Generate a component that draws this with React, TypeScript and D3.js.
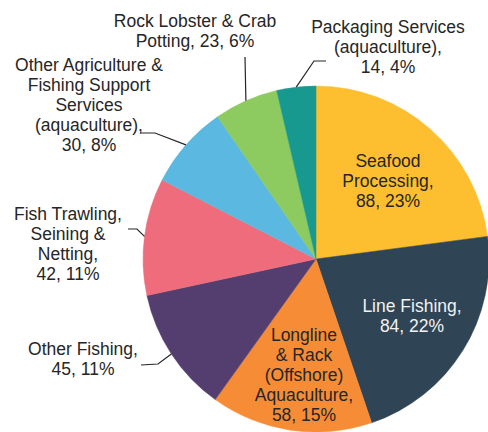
import React, { useRef, useEffect } from "react";
import * as d3 from "d3";

const categories = [
  "Seafood Processing",
  "Line Fishing",
  "Longline & Rack (Offshore) Aquaculture",
  "Other Fishing",
  "Fish Trawling, Seining & Netting",
  "Other Agriculture & Fishing Support Services (aquaculture)",
  "Rock Lobster & Crab Potting",
  "Packaging Services (aquaculture)",
];
const values = [88, 84, 58, 45, 42, 30, 23, 14];
const percentLabels = ["23%", "22%", "15%", "11%", "11%", "8%", "6%", "4%"];
// how each label is broken into lines (last line gets "value, percent")
const nameLines = [
  ["Seafood", "Processing,"],
  ["Line Fishing,"],
  ["Longline", "& Rack", "(Offshore)", "Aquaculture,"],
  ["Other Fishing,"],
  ["Fish Trawling,", "Seining &", "Netting,"],
  ["Other Agriculture &", "Fishing Support", "Services", "(aquaculture),"],
  ["Rock Lobster & Crab", "Potting,"],
  ["Packaging Services", "(aquaculture),"],
];
const colors = [
  "#fdbf2f",
  "#2f4454",
  "#f68d36",
  "#533e6f",
  "#ee6c7b",
  "#5bb8e0",
  "#8dca5f",
  "#17998f",
];

// label placement: centre x, first baseline y, optional leader start + elbow
type Layout = { x: number; y: number; leader?: [number, number][]; fill?: string; inline?: boolean };
const layout: Layout[] = [
  { x: 388, y: 167 },
  { x: 412, y: 312, fill: "#f2f2f2" },
  { x: 304, y: 341 },
  { x: 83, y: 355, leader: [[141, 365], [158, 364]] },
  { x: 68, y: 220, leader: [[128, 229], [137, 229]] },
  { x: 89, y: 71, leader: [[140, 133], [155, 133]] },
  { x: 195, y: 27, inline: true, leader: [[245, 57], [245, 57]] },
  { x: 388, y: 33, leader: [[326, 61], [314, 61]] },
];

const W = 488;
const H = 432;

export default function App() {
  const svgRef = useRef<SVGSVGElement>(null);

  useEffect(() => {
    if (!svgRef.current) return;
    const svg = d3.select(svgRef.current);
    svg.selectAll("*").remove();

    const cx = 316;
    const cy = 259;
    const r = 173;
    const lineH = 20;

    svg.append("rect").attr("width", W).attr("height", H).attr("fill", "#ffffff");

    const pie = d3
      .pie<number>()
      .sort(null)
      .value((d) => d)
      .startAngle(0)
      .endAngle(2 * Math.PI);
    const arcs = pie(values);
    const arc = d3.arc<d3.PieArcDatum<number>>().innerRadius(0).outerRadius(r);

    const g = svg.append("g").attr("transform", `translate(${cx},${cy})`);
    g.selectAll("path.slice")
      .data(arcs)
      .join("path")
      .attr("class", "slice")
      .attr("d", arc)
      .attr("fill", (_, i) => colors[i])
      .attr("stroke", (_, i) => colors[i])
      .attr("stroke-width", 0.5);

    // leader lines
    arcs.forEach((a, i) => {
      const lay = layout[i];
      if (!lay.leader) return;
      const mid = (a.startAngle + a.endAngle) / 2;
      const ex = cx + r * Math.sin(mid);
      const ey = cy - r * Math.cos(mid);
      const pts = [...lay.leader, [ex, ey] as [number, number]];
      svg
        .append("path")
        .attr("d", d3.line()(pts))
        .attr("fill", "none")
        .attr("stroke", "#262626")
        .attr("stroke-width", 1.2);
    });

    // labels
    arcs.forEach((a, i) => {
      const lay = layout[i];
      const names = nameLines[i].slice();
      const tail = `${values[i]}, ${percentLabels[i]}`;
      let lines: string[];
      if (lay.inline) {
        names[names.length - 1] = `${names[names.length - 1]} ${tail}`;
        lines = names;
      } else {
        lines = [...names, tail];
      }
      const t = svg
        .append("text")
        .attr("text-anchor", "middle")
        .style("font-family", "'Liberation Sans', Arial, sans-serif")
        .style("font-size", "17.5px")
        .style("fill", lay.fill ?? "#262626");
      lines.forEach((ln, k) => {
        t.append("tspan")
          .attr("x", lay.x)
          .attr("y", lay.y + k * lineH)
          .text(ln);
      });
    });
  }, []);

  return (
    <div style={{ position: "absolute", left: 0, top: 0 }}>
      <svg ref={svgRef} width={W} height={H} viewBox={`0 0 ${W} ${H}`} style={{ display: "block" }} />
    </div>
  );
}
